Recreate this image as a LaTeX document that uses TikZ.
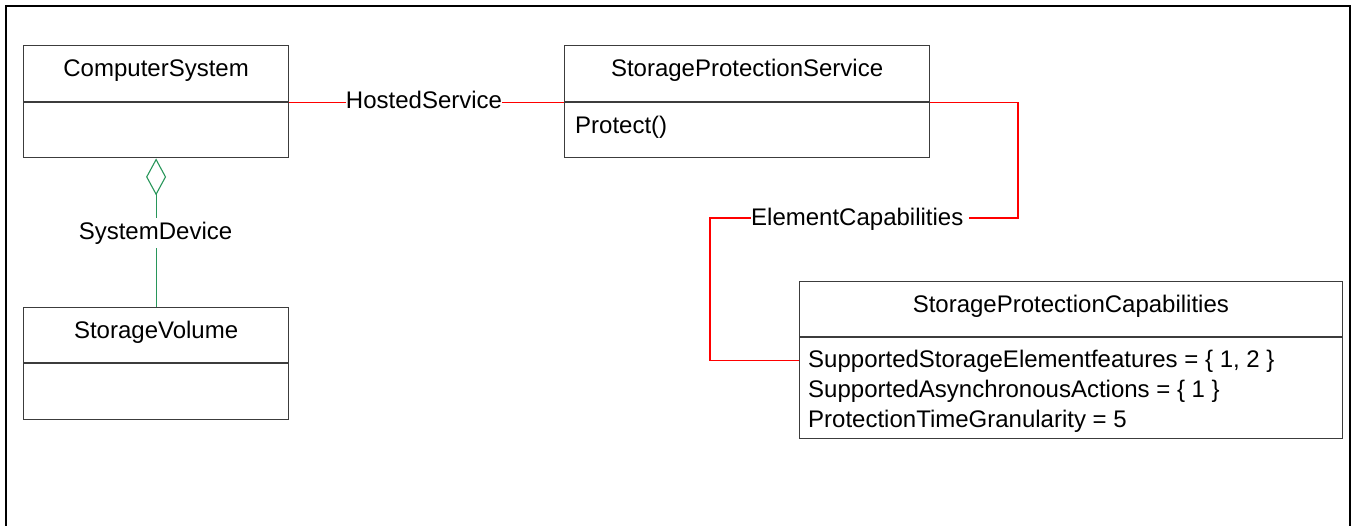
\documentclass[tikz,border=0pt]{standalone}
\usepackage{fontspec}
\setmainfont{Liberation Sans}
\usetikzlibrary{arrows.meta,calc}
\definecolor{boxgray}{RGB}{60,60,60}
\definecolor{aggreen}{RGB}{40,150,90}
\definecolor{linkred}{RGB}{255,0,0}
\tikzset{
  every node/.style={font=\fontsize{24}{28}\selectfont},
  box/.style={draw=boxgray, line width=1.2pt, rectangle, inner sep=0pt, anchor=north west},
  title/.style={box, text height=17pt, text depth=11pt},
  attr/.style={inner sep=0pt, anchor=base west},
  link/.style={draw=linkred, line width=1.1pt},
  agg/.style={draw=aggreen, line width=1.1pt},
  lbl/.style={fill=white, inner xsep=0pt, inner ysep=4pt, anchor=base},
}
\begin{document}
\begin{tikzpicture}[x=1pt,y=-1pt]
\useasboundingbox (0,0) rectangle (1351,525);
\draw[line width=2pt] (6,527) -- (6,6) -- (1350,6) -- (1350,527);

% ComputerSystem
\node[title, minimum width=265pt, minimum height=56pt] (cs) at (23,45) {ComputerSystem};
\node[box, minimum width=265pt, minimum height=55pt] (csb) at (cs.south west) {};

% StorageVolume
\node[title, minimum width=265pt, minimum height=55pt] (sv) at (23,307) {StorageVolume};
\node[box, minimum width=265pt, minimum height=55.5pt] (svb) at (sv.south west) {};

% StorageProtectionService
\node[title, minimum width=365pt, minimum height=56.5pt] (sps) at (564,44.5) {StorageProtectionService};
\node[box, minimum width=365pt, minimum height=55pt] (spsb) at (sps.south west) {};
\node[attr] (prot) at (575,133) {Protect()};

% StorageProtectionCapabilities
\node[title, minimum width=542.5pt, minimum height=55pt] (spc) at (799,281) {StorageProtectionCapabilities};
\node[box, minimum width=542.5pt, minimum height=101pt] (spcb) at (spc.south west) {};
\node[attr] (a1) at (808,367) {SupportedStorageElementfeatures = \{ 1, 2 \}};
\node[attr] (a2) at (808,397) {SupportedAsynchronousActions = \{ 1 \}};
\node[attr] (a3) at (808,427) {ProtectionTimeGranularity = 5};

% HostedService
\draw[link] (csb.north east) -- (spsb.north west);
\node[lbl] (hs) at (424,108) {HostedService};

% ElementCapabilities
\coordinate (ecR) at (1018,218);
\coordinate (ecL) at (710,218);
\draw[link] (spsb.north east) -| (ecR) -- (ecL) |- ($(spcb.north west)+(0,23)$);
\node[lbl, anchor=base west] (ec) at (751,225.5) {ElementCapabilities\kern6pt};

% SystemDevice
\draw[agg, {Diamond[open, length=37pt, width=20pt]}-] (csb.south) -- (sv.north);
\node[lbl] (sd) at (155.5,239.3) {SystemDevice};
\end{tikzpicture}
\end{document}
